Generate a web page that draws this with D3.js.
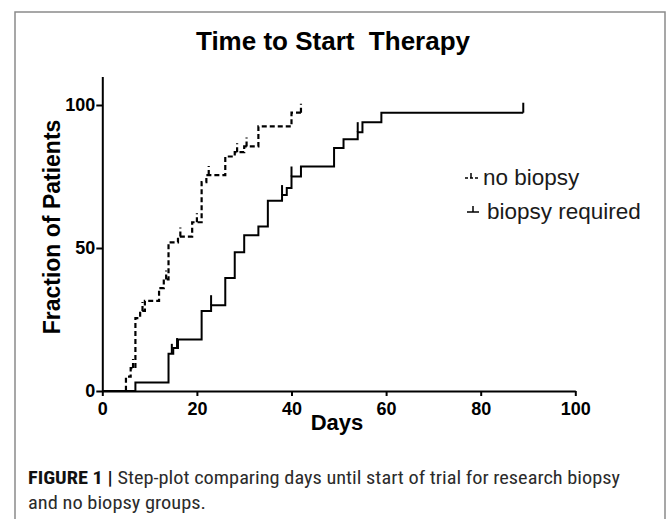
<!DOCTYPE html>
<html>
<head>
<meta charset="utf-8">
<script src="https://cdn.jsdelivr.net/npm/d3@7"></script>
<style>
  body { margin:0; background:#fff; }
  text { font-family: 'Liberation Sans', Arial, sans-serif; }
  .axis path, .axis line { stroke:#000; stroke-width:2px; }
  .axis text { font-size:18px; font-weight:bold; fill:#000; font-family: 'Liberation Sans', Arial, sans-serif; }
  .caption { font-family: 'Liberation Sans Narrow', 'Roboto Condensed', Roboto, sans-serif; font-size:18.5px; fill:#2b2b2b; }
</style>
</head>
<body>
<svg id="chart" width="669" height="519"></svg>
<script>
// step events: day and fraction after the step
var noBiopsyDays = [0, 5, 6, 7, 8, 9, 12, 13, 14, 16, 19, 21, 22, 26, 28, 30, 33, 40];
var noBiopsyVals = [0, 5, 8, 25.5, 28, 31.5, 36, 39, 52, 54, 59, 73, 75.5, 82, 83.5, 85.5, 92.5, 97.3];
var noBiopsyEnd = 42;
var noBiopsyCensor = [6.5, 8.5, 13.5, 16.5, 20, 22.5, 28.5, 30.5, 42];

var biopsyDays = [0, 7, 14, 15, 16, 21, 23, 26, 28, 30, 33, 35, 38, 39, 40, 42, 49, 51, 54, 55, 59];
var biopsyVals = [0, 3, 13, 15, 18, 28, 30, 39.5, 48.5, 54.5, 57.5, 66.5, 68.5, 71, 75, 78.5, 85, 88, 90.5, 94, 97.3];
var biopsyEnd = 89;
var biopsyCensor = [14.7, 15.8, 23, 38, 40, 54, 89];

var xTicks = [0, 20, 40, 60, 80, 100];
var yTicks = [0, 50, 100];
var legendLabels = ["no biopsy", "biopsy required"];

var svg = d3.select("#chart");

// figure frame
svg.append("rect")
  .attr("x", 15).attr("y", 12)
  .attr("width", 650).attr("height", 600)
  .attr("fill", "none")
  .attr("stroke", "#8a8a8a")
  .attr("stroke-width", 1.5);

var x = d3.scaleLinear().domain([0, 100]).range([102.3, 575.3]);
var y = d3.scaleLinear().domain([0, 110]).range([391, 76.4]);

svg.append("g")
  .attr("class", "axis")
  .attr("transform", "translate(0,391)")
  .call(d3.axisBottom(x).tickValues(xTicks).tickSize(5).tickSizeOuter(0).tickPadding(6));

svg.append("g")
  .attr("class", "axis")
  .attr("transform", "translate(102.3,0)")
  .call(d3.axisLeft(y).tickValues(yTicks).tickSize(6).tickSizeOuter(0).tickPadding(1));

function series(days, vals, end) {
  var pts = days.map(function(d, i) { return [d, vals[i]]; });
  pts.push([end, vals[vals.length - 1]]);
  return pts;
}

function valueAt(days, vals, t) {
  var v = 0;
  for (var i = 0; i < days.length; i++) { if (days[i] <= t) v = vals[i]; }
  return v;
}

var line = d3.line()
  .x(function(d) { return x(d[0]); })
  .y(function(d) { return y(d[1]); })
  .curve(d3.curveStepAfter);

svg.append("path")
  .datum(series(noBiopsyDays, noBiopsyVals, noBiopsyEnd))
  .attr("d", line)
  .attr("fill", "none")
  .attr("stroke", "#000")
  .attr("stroke-width", 2.2)
  .attr("stroke-dasharray", "5,3");

svg.append("path")
  .datum(series(biopsyDays, biopsyVals, biopsyEnd))
  .attr("d", line)
  .attr("fill", "none")
  .attr("stroke", "#000")
  .attr("stroke-width", 2);

// censor ticks
svg.selectAll(".tickNB")
  .data(noBiopsyCensor)
  .enter().append("line")
  .attr("x1", function(d) { return x(d); })
  .attr("x2", function(d) { return x(d); })
  .attr("y1", function(d) { return y(valueAt(noBiopsyDays, noBiopsyVals, d)); })
  .attr("y2", function(d) { return y(valueAt(noBiopsyDays, noBiopsyVals, d)) - 9; })
  .attr("stroke", "#000").attr("stroke-width", 2.2)
  .attr("stroke-dasharray", "5,3");

svg.selectAll(".tickB")
  .data(biopsyCensor)
  .enter().append("line")
  .attr("x1", function(d) { return x(d); })
  .attr("x2", function(d) { return x(d); })
  .attr("y1", function(d) { return y(valueAt(biopsyDays, biopsyVals, d)); })
  .attr("y2", function(d) { return y(valueAt(biopsyDays, biopsyVals, d)) - 10; })
  .attr("stroke", "#000").attr("stroke-width", 2);

// title and axis labels
svg.append("text")
  .attr("x", 333).attr("y", 50)
  .attr("text-anchor", "middle")
  .style("white-space", "pre")
  .style("font-size", "26px").style("font-weight", "bold")
  .text("Time to Start  Therapy");

svg.append("text")
  .attr("x", 337).attr("y", 430)
  .attr("text-anchor", "middle")
  .style("font-size", "22px").style("font-weight", "bold")
  .text("Days");

svg.append("text")
  .attr("transform", "translate(60,227) rotate(-90)")
  .attr("text-anchor", "middle")
  .style("font-size", "23px").style("font-weight", "bold")
  .text("Fraction of Patients");

// legend
var lg = svg.append("g");
var legendY = [178, 212];
lg.append("line").attr("x1", 465).attr("x2", 478).attr("y1", legendY[0]).attr("y2", legendY[0])
  .attr("stroke", "#000").attr("stroke-width", 1.5).attr("stroke-dasharray", "3,2");
lg.append("line").attr("x1", 471).attr("x2", 471).attr("y1", legendY[0]).attr("y2", legendY[0] - 5)
  .attr("stroke", "#000").attr("stroke-width", 1.5);
lg.append("line").attr("x1", 467).attr("x2", 479).attr("y1", legendY[1]).attr("y2", legendY[1])
  .attr("stroke", "#000").attr("stroke-width", 1.5);
lg.append("line").attr("x1", 473).attr("x2", 473).attr("y1", legendY[1]).attr("y2", legendY[1] - 6)
  .attr("stroke", "#000").attr("stroke-width", 1.5);
lg.selectAll("text.leg")
  .data(legendLabels)
  .enter().append("text")
  .attr("x", function(d, i) { return i == 0 ? 483 : 487; })
  .attr("y", function(d, i) { return legendY[i] + 7; })
  .style("font-size", "22.5px")
  .style("fill", "#1a1a1a")
  .text(function(d) { return d; });

// caption
var cap1 = svg.append("text").attr("class", "caption")
  .attr("x", 28).attr("y", 484)
  .attr("textLength", 592).attr("lengthAdjust", "spacingAndGlyphs");
cap1.append("tspan").style("font-weight", "bold").style("fill", "#111").text("FIGURE 1 | ");
cap1.append("tspan").text("Step-plot comparing days until start of trial for research biopsy");

svg.append("text").attr("class", "caption")
  .attr("x", 28).attr("y", 509)
  .attr("textLength", 178).attr("lengthAdjust", "spacingAndGlyphs")
  .text("and no biopsy groups.");
</script>
</body>
</html>
